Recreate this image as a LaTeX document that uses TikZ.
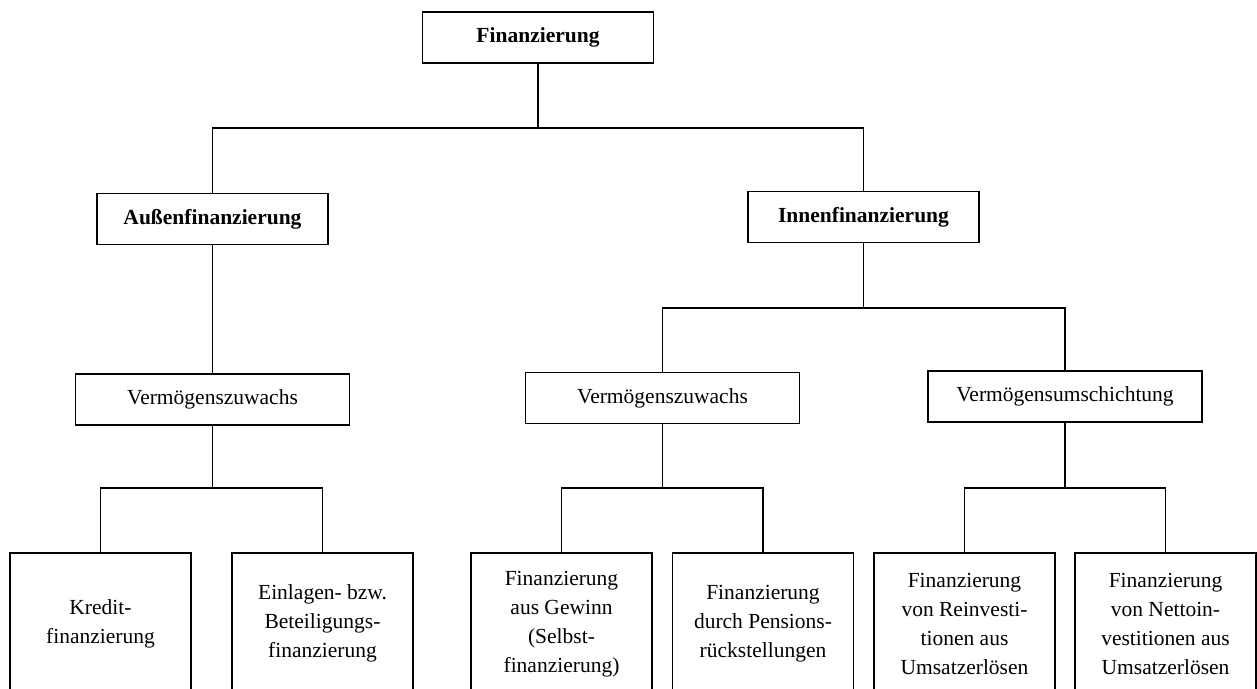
\documentclass[tikz,border=0pt]{standalone}
\usepackage{fontspec}
\setmainfont{Liberation Serif}
\newcommand\diagfont{\fontsize{21.5}{29}\selectfont}
\begin{document}
\begin{tikzpicture}[x=1pt, y=1pt, line width=1.5pt,
    box/.style = {draw, rectangle, align=center, inner sep=0pt, minimum height=51pt, font=\diagfont},
    headbox/.style = {box, minimum width=231pt, line width=1.8pt, font=\diagfont\bfseries},
    midbox/.style = {box, minimum width=274pt},
    leafbox/.style = {box, anchor=north, minimum width=181pt, minimum height=142pt}]
  \useasboundingbox (0,0) rectangle (1257,-688);
  \node[headbox] (fin) at (538,-37.5) {Finanzierung};
  \node[headbox] (auss) at (212.5,-219) {Außenfinanzierung};
  \node[headbox] (innen) at (863.5,-217) {Innenfinanzierung};
  \node[midbox] (vz1) at (212.5,-399.5) {Vermögenszuwachs};
  \node[midbox] (vz2) at (662.5,-398) {Vermögenszuwachs};
  \node[midbox] (vu) at (1065,-396.5) {Vermögensumschichtung};
  \node[leafbox] (kredit) at (100.5,-552) {Kredit-\\finanzierung};
  \node[leafbox] (einlage) at (322.5,-552) {Einlagen- bzw.\\Beteiligungs-\\finanzierung};
  \node[leafbox] (gewinn) at (561.5,-552) {Finanzierung\\aus Gewinn\\(Selbst-\\finanzierung)};
  \node[leafbox] (pension) at (763,-552) {Finanzierung\\durch Pensions-\\rückstellungen};
  \node[leafbox] (reinv) at (964.5,-552) {Finanzierung\\von Reinvesti-\\tionen aus\\Umsatzerlösen};
  \node[leafbox] (nettoinv) at (1165.5,-552) {Finanzierung\\von Nettoin-\\vestitionen aus\\Umsatzerlösen};
  \coordinate (j1) at (538,-128);
  \coordinate (j2) at (863.5,-308);
  \draw (fin) -- (j1) (auss) |- (j1) -| (innen);
  \draw (auss) -- (vz1);
  \draw (innen) -- (j2) (vz2) |- (j2) -| (vu);
  \foreach \p/\a/\b in {vz1/kredit/einlage, vz2/gewinn/pension, vu/reinv/nettoinv}
    \draw (\p) -- (\p |- 0,-488) (\a) |- (\p |- 0,-488) -| (\b);
\end{tikzpicture}
\end{document}
